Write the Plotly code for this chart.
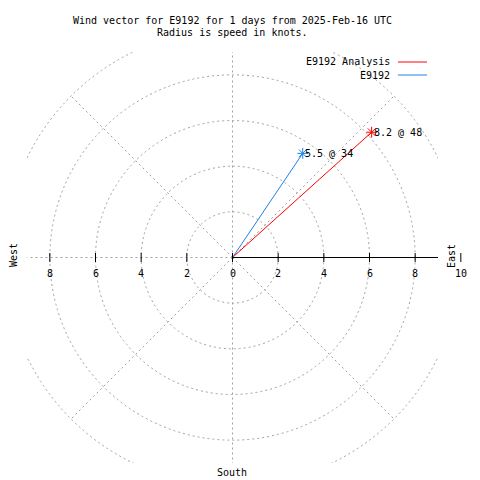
import numpy as np
import plotly.graph_objects as go

# ---------------- data ----------------
title_lines = ["Wind vector for E9192 for 1 days from 2025-Feb-16 UTC",
               "Radius is speed in knots."]
series_names = ["E9192 Analysis", "E9192"]
series_colors = ["#ff0000", "#1e82e6"]
speeds = [8.2, 5.5]          # knots
directions = [48, 34]        # degrees clockwise from north
grid_radii = [2, 4, 6, 8, 10]
spoke_angles = [0, 45, 90, 135, 180, 225, 270, 315]
tick_values = [-8, -6, -4, -2, 0, 2, 4, 6, 8, 10]
tick_labels = ["8", "6", "4", "2", "0", "2", "4", "6", "8", "10"]
compass_names = ["East", "West", "South"]

# ---------------- style ----------------
FONT = "DejaVu Sans Mono"
FS = 10
HALF = 9.0                 # plot half-range (knots)
GRID = "#a0a0a0"
DASH = "2px,3px"
OFF = 8                    # page body margin offset
W = H = 480 - OFF
L, T = 27 - OFF, 52 - OFF
R, B = W - (438 - OFF), H - (463 - OFF)
PW, PH = W - L - R, H - T - B
PX = PW / (2 * HALF)       # pixels per knot


def px2paper(xp, yp):
    """screen pixel -> paper coordinates"""
    return (xp - OFF - L) / PW, (H - B - (yp - OFF)) / PH


def data2paper_x(v):
    return (v + HALF) / (2 * HALF)


def data2paper_y(v):
    return (v + HALF) / (2 * HALF)


fig = go.Figure()

# grid circles
for r in grid_radii:
    fig.add_shape(type="circle", xref="x", yref="y", x0=-r, x1=r, y0=-r, y1=r,
                  line=dict(color=GRID, width=1, dash=DASH), layer="below")

# spokes
for a in spoke_angles:
    t = np.deg2rad(a)
    fig.add_shape(type="line", xref="x", yref="y", x0=0, y0=0,
                  x1=grid_radii[-1] * np.cos(t), y1=grid_radii[-1] * np.sin(t),
                  line=dict(color=GRID, width=1, dash=DASH), layer="below")

# solid radial axis to the east
fig.add_shape(type="line", xref="x", yref="y", x0=0, y0=0, x1=HALF, y1=0,
              line=dict(color="black", width=1), layer="below")

# tick marks and labels along the horizontal axis
TICK_HALF = 4.5 / PX
LABEL_DY = 15.5 / PX
for v, lab in zip(tick_values, tick_labels):
    xp = data2paper_x(v)
    fig.add_shape(type="line", xref="paper", yref="paper", x0=xp, x1=xp,
                  y0=data2paper_y(-TICK_HALF), y1=data2paper_y(TICK_HALF),
                  line=dict(color="black", width=1))
    fig.add_annotation(x=xp, y=data2paper_y(-LABEL_DY), xref="paper", yref="paper",
                       text=lab, showarrow=False, xanchor="center", yanchor="middle",
                       font=dict(family=FONT, size=FS, color="black"))

# wind vectors
for name, col, s, d in zip(series_names, series_colors, speeds, directions):
    t = np.deg2rad(d)
    xe, ye = s * np.sin(t), s * np.cos(t)
    fig.add_trace(go.Scatter(x=[0, xe], y=[0, ye], mode="lines", name=name,
                             line=dict(color=col, width=1), showlegend=False))
    fig.add_trace(go.Scatter(x=[xe], y=[ye], mode="markers", name=name,
                             marker=dict(symbol="asterisk-open", size=9, color=col,
                                         line=dict(width=1, color=col)),
                             showlegend=False))
    fig.add_annotation(x=xe, y=ye, xref="x", yref="y", text=f"{s} @ {d}",
                       showarrow=False, xanchor="left", yanchor="middle", xshift=0,
                       font=dict(family=FONT, size=FS, color="black"))

# legend (gnuplot style: text then sample line)
for i, (name, col) in enumerate(zip(series_names, series_colors)):
    xt, yp = px2paper(392, 62 + 13 * i)
    x0, _ = px2paper(398, 0)
    x1, _ = px2paper(427, 0)
    fig.add_annotation(x=xt, y=yp, xref="paper", yref="paper",
                       text=name, showarrow=False, xanchor="right", yanchor="middle",
                       font=dict(family=FONT, size=FS, color="black"))
    fig.add_shape(type="line", xref="paper", yref="paper",
                  x0=x0, x1=x1, y0=yp, y1=yp, line=dict(color=col, width=1))

# compass labels
for name, (xp, yp), ang in zip(compass_names, [(452, 256), (14, 255), (232, 472)],
                               [-90, -90, 0]):
    xx, yy = px2paper(xp, yp)
    fig.add_annotation(x=xx, y=yy, xref="paper", yref="paper", text=name,
                       showarrow=False, textangle=ang, xanchor="center", yanchor="middle",
                       font=dict(family=FONT, size=FS, color="black"))

# title (two centred lines)
for i, line in enumerate(title_lines):
    xx, yy = px2paper(232, 20 + 13 * i)
    fig.add_annotation(x=xx, y=yy, xref="paper", yref="paper", text=line,
                       showarrow=False, xanchor="center", yanchor="middle",
                       font=dict(family=FONT, size=FS, color="black"))

fig.update_layout(
    width=W, height=H,
    margin=dict(l=L, r=R, t=T, b=B),
    paper_bgcolor="white", plot_bgcolor="white",
    xaxis=dict(range=[-HALF, HALF], visible=False, fixedrange=True),
    yaxis=dict(range=[-HALF, HALF], visible=False, fixedrange=True),
    showlegend=False,
)

fig.write_html("out.html")
